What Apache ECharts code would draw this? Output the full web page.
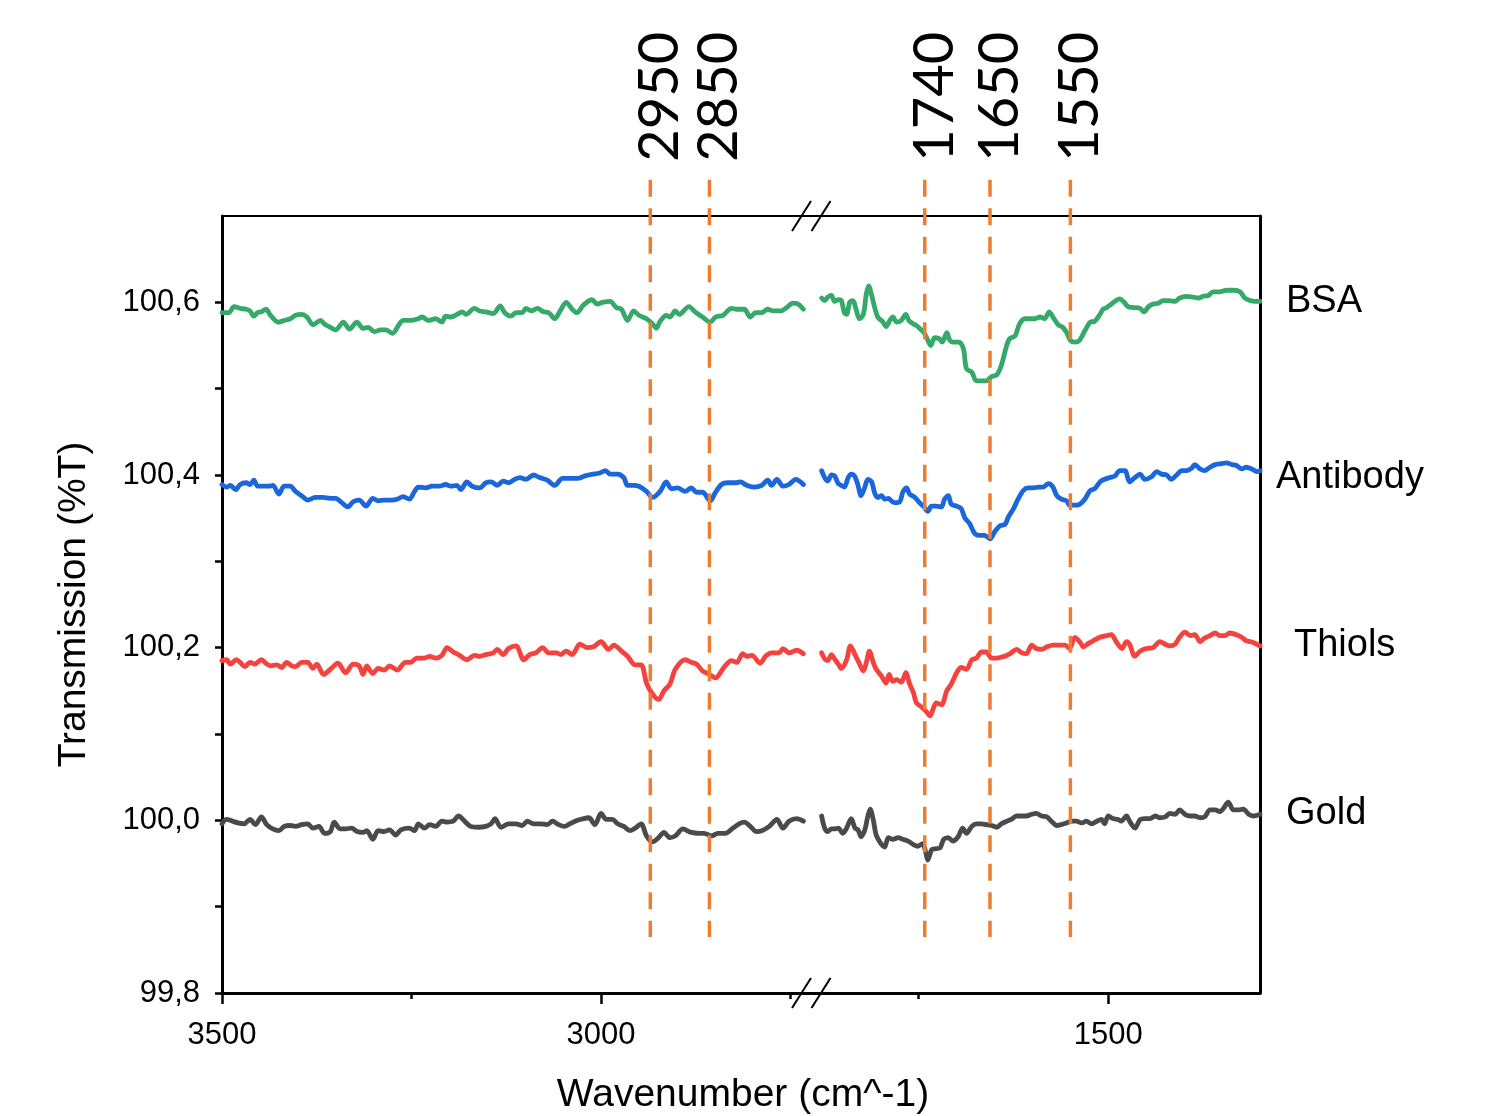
<!DOCTYPE html>
<html>
<head>
<meta charset="utf-8">
<title>FTIR transmission</title>
<script src="https://cdn.jsdelivr.net/npm/echarts@6/dist/echarts.min.js"></script>
<style>
  html, body { margin: 0; padding: 0; background: #fff; }
  #chart { width: 1486px; height: 1116px; }
</style>
</head>
<body>
<div id="chart"></div>
<script>
// broken wavenumber axis: left part and right part (cm^-1)
const leftRange = [2723, 3500];
const rightRange = [1300, 1892];
const yRange = [99.8, 100.7];

const xMajorLeft = [3500, 3000];
const xMinorLeft = [3250, 2750];
const xMajorRight = [1500];
const xMinorRight = [1750];
const yTicks = [99.8, 99.9, 100.0, 100.1, 100.2, 100.3, 100.4, 100.5, 100.6];
const yLabels = [99.8, 100.0, 100.2, 100.4, 100.6];

// marked bands: where the dashed lines sit, and their captions
const peakPos = [2935, 2857, 1742, 1656, 1550];
const peakText = ['2950', '2850', '1740', '1650', '1550'];
const peakSpan = [99.865, 100.742];

const bsaLeft = [[3500,100.588],[3491,100.588],[3484,100.595],[3476,100.593],[3468,100.592],[3463,100.590],[3458,100.584],[3453,100.588],[3448,100.589],[3442,100.592],[3436,100.585],[3426,100.577],[3418,100.579],[3410,100.581],[3403,100.585],[3395,100.586],[3388,100.583],[3380,100.574],[3370,100.579],[3365,100.575],[3357,100.571],[3350,100.568],[3340,100.577],[3332,100.569],[3322,100.577],[3314,100.570],[3307,100.571],[3299,100.566],[3291,100.568],[3284,100.568],[3275,100.564],[3266,100.575],[3261,100.579],[3251,100.579],[3241,100.581],[3236,100.583],[3228,100.579],[3218,100.581],[3210,100.577],[3205,100.584],[3198,100.583],[3190,100.586],[3183,100.589],[3178,100.586],[3167,100.593],[3160,100.590],[3152,100.589],[3142,100.587],[3133,100.596],[3127,100.588],[3119,100.584],[3112,100.588],[3104,100.588],[3099,100.593],[3092,100.590],[3084,100.593],[3076,100.589],[3069,100.588],[3061,100.581],[3054,100.590],[3046,100.600],[3038,100.592],[3032,100.588],[3023,100.597],[3012,100.603],[3005,100.598],[2998,100.600],[2988,100.601],[2980,100.594],[2973,100.592],[2965,100.579],[2957,100.590],[2950,100.585],[2940,100.581],[2932,100.575],[2927,100.570],[2922,100.578],[2914,100.585],[2909,100.583],[2902,100.590],[2897,100.586],[2884,100.595],[2876,100.589],[2866,100.583],[2856,100.577],[2849,100.583],[2839,100.585],[2828,100.593],[2821,100.592],[2811,100.592],[2803,100.583],[2796,100.588],[2788,100.588],[2780,100.592],[2773,100.590],[2763,100.590],[2755,100.594],[2747,100.599],[2740,100.598],[2733,100.592]];
const bsaRight = [[1878,100.605],[1874,100.602],[1870,100.606],[1865,100.608],[1861,100.601],[1856,100.603],[1852,100.602],[1848,100.588],[1845,100.586],[1841,100.600],[1837,100.602],[1832,100.590],[1828,100.581],[1823,100.586],[1819,100.610],[1816,100.619],[1812,100.608],[1808,100.594],[1804,100.583],[1797,100.577],[1793,100.572],[1788,100.579],[1784,100.583],[1779,100.577],[1773,100.579],[1767,100.586],[1763,100.579],[1757,100.575],[1753,100.573],[1749,100.570],[1743,100.565],[1739,100.558],[1734,100.550],[1729,100.559],[1723,100.558],[1719,100.554],[1713,100.565],[1709,100.556],[1705,100.554],[1697,100.554],[1691,100.546],[1687,100.523],[1680,100.519],[1674,100.509],[1667,100.509],[1661,100.509],[1654,100.514],[1647,100.516],[1641,100.527],[1634,100.550],[1630,100.558],[1623,100.561],[1617,100.575],[1610,100.581],[1603,100.581],[1597,100.581],[1590,100.583],[1584,100.581],[1578,100.589],[1573,100.583],[1566,100.574],[1560,100.571],[1555,100.565],[1550,100.556],[1544,100.554],[1538,100.556],[1531,100.567],[1524,100.577],[1518,100.578],[1511,100.586],[1507,100.592],[1502,100.594],[1496,100.598],[1490,100.602],[1485,100.604],[1480,100.601],[1474,100.595],[1467,100.594],[1458,100.593],[1453,100.589],[1447,100.595],[1441,100.598],[1434,100.599],[1428,100.602],[1419,100.602],[1412,100.601],[1406,100.605],[1397,100.607],[1388,100.606],[1381,100.605],[1375,100.607],[1368,100.608],[1362,100.612],[1353,100.612],[1344,100.614],[1335,100.614],[1326,100.612],[1320,100.605],[1313,100.602],[1307,100.601],[1300,100.601]];

const antibodyLeft = [[3500,100.389],[3494,100.386],[3489,100.388],[3482,100.383],[3476,100.389],[3468,100.391],[3463,100.389],[3458,100.394],[3453,100.387],[3446,100.387],[3438,100.387],[3433,100.388],[3425,100.378],[3418,100.387],[3410,100.387],[3403,100.381],[3395,100.376],[3387,100.371],[3377,100.374],[3367,100.374],[3357,100.373],[3350,100.373],[3342,100.368],[3334,100.363],[3327,100.369],[3319,100.371],[3310,100.364],[3301,100.373],[3294,100.370],[3286,100.371],[3276,100.371],[3269,100.372],[3261,100.375],[3253,100.372],[3246,100.381],[3241,100.386],[3231,100.385],[3223,100.387],[3213,100.387],[3205,100.389],[3198,100.387],[3190,100.388],[3185,100.383],[3177,100.392],[3170,100.387],[3160,100.385],[3152,100.391],[3145,100.392],[3137,100.388],[3129,100.393],[3122,100.391],[3114,100.395],[3107,100.397],[3099,100.395],[3089,100.400],[3081,100.397],[3071,100.394],[3061,100.388],[3051,100.396],[3041,100.396],[3031,100.396],[3021,100.399],[3011,100.401],[3003,100.402],[2994,100.405],[2988,100.401],[2978,100.401],[2970,100.397],[2965,100.388],[2957,100.388],[2950,100.387],[2940,100.381],[2932,100.374],[2922,100.381],[2914,100.392],[2907,100.384],[2899,100.385],[2889,100.381],[2881,100.385],[2874,100.380],[2866,100.380],[2856,100.370],[2849,100.380],[2841,100.389],[2833,100.391],[2823,100.391],[2816,100.392],[2808,100.388],[2798,100.386],[2788,100.388],[2780,100.394],[2775,100.388],[2768,100.395],[2760,100.387],[2752,100.389],[2743,100.395],[2733,100.389]];
const antibodyRight = [[1878,100.405],[1874,100.397],[1870,100.393],[1865,100.400],[1861,100.399],[1856,100.390],[1852,100.388],[1848,100.386],[1843,100.397],[1839,100.401],[1834,100.398],[1830,100.388],[1826,100.376],[1821,100.386],[1817,100.395],[1812,100.392],[1808,100.379],[1804,100.374],[1799,100.376],[1795,100.372],[1790,100.373],[1786,100.370],[1782,100.368],[1775,100.369],[1771,100.380],[1766,100.385],[1762,100.378],[1755,100.374],[1749,100.368],[1743,100.363],[1738,100.358],[1733,100.364],[1727,100.364],[1720,100.363],[1716,100.372],[1711,100.376],[1707,100.366],[1700,100.364],[1694,100.361],[1689,100.350],[1683,100.344],[1676,100.332],[1669,100.330],[1663,100.330],[1656,100.326],[1650,100.334],[1643,100.341],[1636,100.343],[1632,100.351],[1625,100.361],[1619,100.372],[1612,100.382],[1606,100.385],[1599,100.385],[1592,100.386],[1586,100.386],[1579,100.390],[1573,100.386],[1568,100.376],[1562,100.372],[1555,100.370],[1551,100.365],[1544,100.365],[1538,100.366],[1531,100.372],[1524,100.382],[1518,100.384],[1511,100.392],[1505,100.395],[1498,100.397],[1491,100.399],[1485,100.405],[1478,100.405],[1472,100.392],[1465,100.397],[1458,100.401],[1452,100.395],[1443,100.398],[1436,100.404],[1430,100.401],[1423,100.400],[1417,100.395],[1410,100.400],[1403,100.405],[1397,100.405],[1390,100.408],[1386,100.412],[1379,100.407],[1373,100.405],[1366,100.409],[1359,100.412],[1353,100.413],[1344,100.414],[1337,100.412],[1331,100.411],[1324,100.407],[1318,100.409],[1311,100.407],[1304,100.404],[1300,100.405]];

const thiolsLeft = [[3500,100.185],[3494,100.186],[3489,100.181],[3481,100.186],[3476,100.183],[3470,100.178],[3463,100.183],[3457,100.181],[3448,100.186],[3441,100.181],[3436,100.179],[3428,100.180],[3421,100.177],[3415,100.183],[3408,100.179],[3403,100.178],[3395,100.183],[3387,100.183],[3380,100.176],[3375,100.181],[3366,100.169],[3357,100.175],[3347,100.182],[3337,100.171],[3327,100.181],[3319,100.179],[3314,100.169],[3309,100.179],[3301,100.170],[3294,100.176],[3286,100.174],[3279,100.179],[3269,100.174],[3258,100.183],[3251,100.183],[3243,100.188],[3233,100.188],[3226,100.190],[3218,100.188],[3210,100.191],[3203,100.200],[3195,100.195],[3188,100.192],[3177,100.186],[3167,100.191],[3160,100.190],[3152,100.192],[3142,100.194],[3137,100.198],[3129,100.192],[3122,100.199],[3112,100.202],[3102,100.186],[3094,100.192],[3086,100.194],[3077,100.200],[3069,100.194],[3059,100.194],[3053,100.192],[3046,100.196],[3038,100.192],[3028,100.204],[3018,100.200],[3010,100.201],[3000,100.207],[2990,100.198],[2983,100.203],[2973,100.196],[2965,100.190],[2955,100.180],[2947,100.180],[2940,100.159],[2932,100.146],[2924,100.140],[2917,100.150],[2909,100.158],[2902,100.175],[2889,100.186],[2881,100.183],[2874,100.181],[2866,100.173],[2859,100.170],[2849,100.165],[2838,100.177],[2828,100.185],[2821,100.183],[2813,100.193],[2808,100.190],[2801,100.191],[2790,100.182],[2783,100.190],[2775,100.194],[2765,100.194],[2760,100.199],[2752,100.194],[2742,100.197],[2733,100.193]];
const thiolsRight = [[1878,100.194],[1874,100.187],[1870,100.185],[1865,100.192],[1861,100.187],[1856,100.181],[1852,100.176],[1845,100.186],[1840,100.202],[1834,100.192],[1829,100.183],[1823,100.173],[1819,100.183],[1815,100.196],[1810,100.183],[1806,100.175],[1799,100.167],[1793,100.159],[1789,100.169],[1784,100.161],[1779,100.163],[1773,100.160],[1767,100.171],[1762,100.158],[1757,100.148],[1753,100.136],[1746,100.131],[1741,100.127],[1735,100.121],[1731,100.129],[1727,100.136],[1720,100.134],[1713,100.150],[1707,100.158],[1700,100.171],[1694,100.177],[1687,100.175],[1680,100.186],[1674,100.188],[1667,100.195],[1661,100.195],[1654,100.188],[1647,100.188],[1641,100.189],[1634,100.191],[1628,100.194],[1621,100.198],[1614,100.194],[1608,100.193],[1601,100.203],[1595,100.199],[1588,100.198],[1581,100.201],[1573,100.203],[1564,100.203],[1557,100.203],[1551,100.199],[1544,100.212],[1537,100.206],[1533,100.201],[1526,100.205],[1520,100.208],[1511,100.212],[1502,100.214],[1496,100.215],[1489,100.206],[1482,100.199],[1476,100.207],[1472,100.204],[1465,100.190],[1458,100.196],[1450,100.199],[1441,100.200],[1432,100.207],[1425,100.204],[1419,100.202],[1412,100.204],[1406,100.212],[1399,100.218],[1392,100.214],[1386,100.215],[1379,100.207],[1373,100.211],[1366,100.214],[1359,100.217],[1353,100.214],[1346,100.214],[1340,100.217],[1331,100.215],[1324,100.212],[1318,100.208],[1309,100.206],[1300,100.202]];

const goldLeft = [[3500,99.996],[3494,100.001],[3486,99.999],[3479,99.997],[3471,99.996],[3463,100.001],[3456,99.995],[3448,100.004],[3441,99.995],[3433,99.990],[3425,99.988],[3418,99.993],[3410,99.994],[3403,99.993],[3395,99.995],[3387,99.996],[3380,99.991],[3372,99.993],[3365,99.985],[3357,99.987],[3352,99.998],[3344,99.990],[3337,99.990],[3329,99.991],[3322,99.987],[3314,99.986],[3309,99.988],[3301,99.978],[3294,99.988],[3286,99.987],[3279,99.989],[3271,99.983],[3264,99.989],[3253,99.991],[3246,99.988],[3241,99.996],[3233,99.991],[3226,99.995],[3218,99.993],[3210,99.999],[3203,99.998],[3195,99.999],[3188,100.005],[3180,99.999],[3172,99.993],[3162,99.992],[3152,99.993],[3145,99.996],[3140,100.002],[3132,99.992],[3122,99.996],[3112,99.996],[3104,99.994],[3097,99.999],[3089,99.996],[3081,99.996],[3071,99.995],[3064,99.999],[3056,99.995],[3048,99.993],[3041,99.996],[3031,100.000],[3023,100.002],[3016,100.003],[3008,99.995],[3000,100.008],[2993,100.001],[2985,100.001],[2978,99.996],[2970,99.993],[2962,99.988],[2955,99.991],[2947,99.996],[2940,99.982],[2932,99.975],[2924,99.980],[2917,99.986],[2909,99.980],[2902,99.982],[2892,99.990],[2881,99.986],[2871,99.985],[2864,99.985],[2854,99.982],[2846,99.985],[2836,99.985],[2826,99.991],[2818,99.996],[2811,99.998],[2803,99.993],[2795,99.987],[2788,99.988],[2778,99.993],[2768,100.001],[2760,99.991],[2752,99.999],[2742,100.002],[2733,99.999]];
const goldRight = [[1878,100.005],[1874,99.991],[1870,99.987],[1865,99.990],[1861,99.990],[1856,99.991],[1850,99.985],[1845,99.991],[1839,100.002],[1834,99.991],[1830,99.989],[1826,99.981],[1821,99.989],[1817,100.005],[1814,100.013],[1810,100.001],[1806,99.983],[1799,99.972],[1795,99.969],[1790,99.980],[1784,99.978],[1777,99.980],[1771,99.978],[1764,99.976],[1757,99.972],[1751,99.970],[1745,99.973],[1741,99.964],[1738,99.954],[1733,99.966],[1729,99.967],[1722,99.968],[1717,99.978],[1711,99.980],[1705,99.976],[1698,99.981],[1692,99.991],[1687,99.985],[1680,99.993],[1674,99.996],[1667,99.996],[1661,99.995],[1654,99.994],[1647,99.992],[1641,99.996],[1634,99.999],[1628,100.001],[1621,100.005],[1614,100.005],[1608,100.005],[1601,100.007],[1595,100.008],[1588,100.005],[1581,100.004],[1575,99.999],[1568,99.994],[1562,99.995],[1555,99.997],[1549,99.999],[1542,99.999],[1535,99.997],[1529,99.999],[1522,99.996],[1515,99.999],[1509,100.001],[1505,99.996],[1500,100.005],[1494,100.002],[1487,100.001],[1483,99.999],[1476,100.005],[1472,99.999],[1465,99.991],[1458,100.001],[1452,100.002],[1445,100.002],[1438,100.005],[1432,100.003],[1425,100.004],[1419,100.008],[1412,100.007],[1406,100.012],[1399,100.007],[1392,100.005],[1386,100.005],[1379,100.003],[1373,100.004],[1366,100.012],[1359,100.012],[1353,100.010],[1348,100.014],[1342,100.021],[1335,100.012],[1329,100.012],[1322,100.013],[1315,100.007],[1309,100.005],[1300,100.007]];

const samples = [
  { name: 'BSA', color: '#35a96a', left: bsaLeft, right: bsaRight, gap: 26, dy: 0 },
  { name: 'Antibody', color: '#1c66dc', left: antibodyLeft, right: antibodyRight, gap: 16, dy: 7 },
  { name: 'Thiols', color: '#f4433f', left: thiolsLeft, right: thiolsRight, gap: 34, dy: 0 },
  { name: 'Gold', color: '#4a4a4a', left: goldLeft, right: goldRight, gap: 26, dy: -1 }
];

// frame geometry
const plotLeft = 222, plotRight = 1260, breakAt = 811, plotTop = 216, plotBottom = 993;
const overlayMax = yRange[0] + (yRange[1] - yRange[0]) * plotBottom / (plotBottom - plotTop);

const black = '#000';
const font = 'Liberation Sans, Arial, sans-serif';
const tickFmt = v => v.toFixed(1).replace('.', ',');
const xFmt = v => String(v);

const chart = echarts.init(document.getElementById('chart'));

function frameX(grid, pos) {
  return {
    gridIndex: grid, type: 'value', position: pos,
    min: grid === 0 ? leftRange[0] : rightRange[0],
    max: grid === 0 ? leftRange[1] : rightRange[1],
    inverse: true,
    axisLine: { show: true, onZero: false, lineStyle: { color: black, width: pos === 'top' ? 2 : 3 } },
    axisTick: { show: false }, axisLabel: { show: false }, splitLine: { show: false }
  };
}

const xLabelStyle = { show: true, formatter: xFmt, fontSize: 31, color: black, fontFamily: font, margin: 27 };

const xAxis = [
  Object.assign(frameX(0, 'bottom'), {
    axisTick: { show: true, length: 11, customValues: xMajorLeft, lineStyle: { color: black, width: 2.5 } },
    axisLabel: Object.assign({ customValues: xMajorLeft }, xLabelStyle)
  }),
  Object.assign(frameX(1, 'bottom'), {
    axisTick: { show: true, length: 11, customValues: xMajorRight, lineStyle: { color: black, width: 2.5 } },
    axisLabel: Object.assign({ customValues: xMajorRight }, xLabelStyle)
  }),
  frameX(0, 'top'),
  frameX(1, 'top'),
  { gridIndex: 2, type: 'value', min: leftRange[0], max: leftRange[1], inverse: true, show: false },
  { gridIndex: 3, type: 'value', min: rightRange[0], max: rightRange[1], inverse: true, show: false },
  Object.assign(frameX(0, 'bottom'), {
    axisLine: { show: false, onZero: false },
    axisTick: { show: true, length: 6, customValues: xMinorLeft, lineStyle: { color: black, width: 2.5 } }
  }),
  Object.assign(frameX(1, 'bottom'), {
    axisLine: { show: false, onZero: false },
    axisTick: { show: true, length: 6, customValues: xMinorRight, lineStyle: { color: black, width: 2.5 } }
  })
];

const yAxis = [
  {
    gridIndex: 0, type: 'value', min: yRange[0], max: yRange[1], position: 'left',
    axisLine: { show: true, lineStyle: { color: black, width: 3 } },
    axisTick: { show: true, length: 7, customValues: yTicks, lineStyle: { color: black, width: 2.5 } },
    axisLabel: { customValues: yLabels, formatter: tickFmt, fontSize: 31, color: black, fontFamily: font, margin: 22 },
    splitLine: { show: false },
    name: 'Transmission (%T)', nameLocation: 'middle', nameGap: 128,
    nameTextStyle: { fontSize: 39, color: black, fontFamily: font }
  },
  {
    gridIndex: 1, type: 'value', min: yRange[0], max: yRange[1], position: 'right',
    axisLine: { show: true, lineStyle: { color: black, width: 3 } },
    axisTick: { show: false }, axisLabel: { show: false }, splitLine: { show: false }
  },
  { gridIndex: 2, type: 'value', min: yRange[0], max: overlayMax, show: false },
  { gridIndex: 3, type: 'value', min: yRange[0], max: overlayMax, show: false }
];

const series = [];
samples.forEach(s => {
  const line = { color: s.color, width: 4.8, join: 'round', cap: 'round' };
  series.push({
    type: 'line', name: s.name, xAxisIndex: 0, yAxisIndex: 0, data: s.left,
    symbol: 'none', smooth: 0.3, silent: true, lineStyle: line, itemStyle: { color: s.color }
  });
  series.push({
    type: 'line', name: s.name, xAxisIndex: 1, yAxisIndex: 1, data: s.right,
    symbol: 'none', smooth: 0.3, silent: true, lineStyle: line, itemStyle: { color: s.color },
    markPoint: {
      silent: true, symbol: 'circle', symbolSize: 0,
      label: {
        show: true, position: 'right', distance: s.gap, offset: [0, s.dy],
        formatter: s.name, fontSize: 38, color: black, fontFamily: font
      },
      data: [{ coord: s.right[s.right.length - 1] }]
    }
  });
});

// rotated captions: offset is applied in the rotated frame ([up, right])
peakPos.forEach((p, i) => {
  const onLeft = p > rightRange[1];
  series.push({
    type: 'line', xAxisIndex: onLeft ? 4 : 5, yAxisIndex: onLeft ? 2 : 3,
    silent: true, symbol: 'circle', symbolSize: 0, showSymbol: true,
    lineStyle: { color: '#ed7d31', width: 3.5, type: [17, 11.5] },
    itemStyle: { color: '#ed7d31' },
    data: [
      {
        value: [p, peakSpan[1]],
        label: {
          show: true, formatter: peakText[i], position: 'top', distance: 8,
          rotate: 90, align: 'left', verticalAlign: 'middle', offset: [10, 10],
          fontSize: 56, fontFamily: 'Lato, Noto Sans, sans-serif', color: black
        }
      },
      [p, peakSpan[0]]
    ]
  });
});

chart.setOption({
  animation: false,
  backgroundColor: '#fff',
  textStyle: { fontFamily: font },
  title: {
    text: 'Wavenumber (cm^-1)', left: 'center', top: 1071,
    textStyle: { fontSize: 39, fontWeight: 'normal', color: black, fontFamily: font }
  },
  grid: [
    { left: plotLeft, top: plotTop, width: breakAt - plotLeft, height: plotBottom - plotTop },
    { left: breakAt, top: plotTop, width: plotRight - breakAt, height: plotBottom - plotTop },
    { left: plotLeft, top: 0, width: breakAt - plotLeft, height: plotBottom },
    { left: breakAt, top: 0, width: plotRight - breakAt, height: plotBottom }
  ],
  xAxis: xAxis,
  yAxis: yAxis,
  series: series
});

// "//" break marks on the top and bottom frame lines
const bx = chart.convertToPixel({ xAxisIndex: 0 }, leftRange[0]);
const marks = [];
[yRange[1], yRange[0]].forEach(v => {
  const y = chart.convertToPixel({ yAxisIndex: 0 }, v);
  [-9.5, 10].forEach(dx => {
    marks.push({
      type: 'line', silent: true, z: 100,
      shape: { x1: bx + dx - 9.5, y1: y + 15, x2: bx + dx + 9.5, y2: y - 15 },
      style: { stroke: black, lineWidth: 2 }
    });
  });
});
chart.setOption({ graphic: marks });
</script>
</body>
</html>
